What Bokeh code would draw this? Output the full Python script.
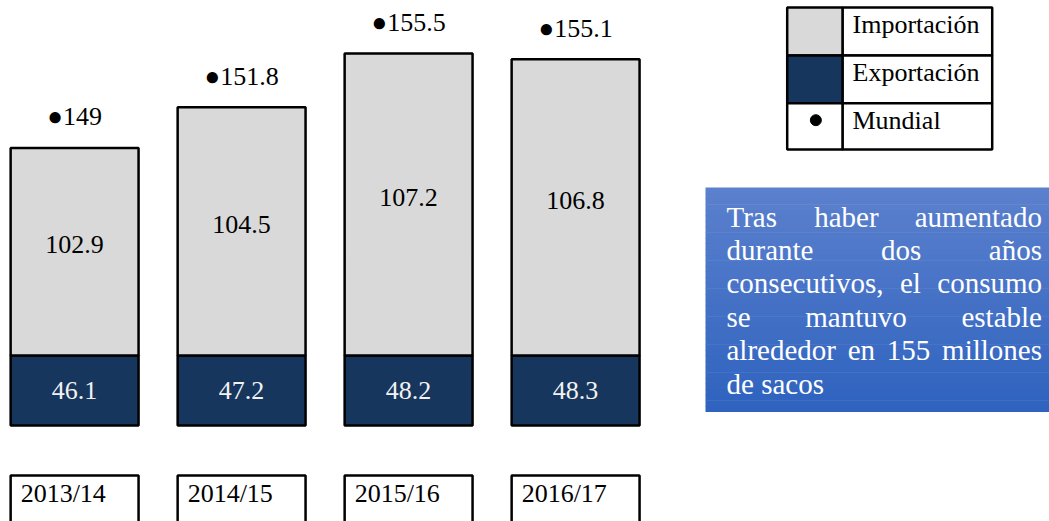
from bokeh.plotting import figure
from bokeh.models import Range1d, ColumnDataSource
from bokeh.embed import file_html
from bokeh.resources import INLINE
from bokeh.core.properties import value

# ---------------- data ----------------
years = ["2013/14", "2014/15", "2015/16", "2016/17"]
importacion = [102.9, 104.5, 107.2, 106.8]
exportacion = [46.1, 47.2, 48.2, 48.3]
mundial = [149, 151.8, 155.5, 155.1]
legend_labels = ["Importación", "Exportación", "Mundial"]
box_lines = ["Tras haber aumentado", "durante dos años", "consecutivos, el consumo",
             "se mantuvo estable", "alrededor en 155 millones", "de sacos"]

# ---------------- style ----------------
FONT = "Liberation Serif"
GRAY = "#d9d9d9"
NAVY = "#17365d"
W, H = 1049, 521
BAR_W = 0.766
BASE = 129.93          # visual baseline of the (truncated) bars
EXPORT_BAND = 4.81     # visual height of the export band (axis break)

p = figure(width=W, height=H, output_backend="svg", toolbar_location=None,
           x_range=Range1d(-0.4437, 5.8377), y_range=Range1d(123.33, 159.137),
           x_axis_location=None, y_axis_location=None, min_border=0)
p.min_border_left = p.min_border_right = p.min_border_top = p.min_border_bottom = 0
p.outline_line_color = None
p.grid.visible = False
p.background_fill_color = "white"
p.extra_x_ranges = {"px": Range1d(0, W)}
p.extra_y_ranges = {"py": Range1d(H, 0)}

xs = list(range(len(years)))
split = [BASE + EXPORT_BAND] * len(xs)
src = ColumnDataSource(dict(
    x=xs, base=[BASE] * len(xs), split=split, top=mundial,
    imp_y=[(s + t) / 2 for s, t in zip(split, mundial)],
    exp_y=[BASE + EXPORT_BAND / 2] * len(xs),
    imp_lab=[f"{v:g}" for v in importacion],
    exp_lab=[f"{v:g}" for v in exportacion],
    mun_lab=["●" + f"{v:g}" for v in mundial],
    left=[x - BAR_W / 2 for x in xs], right=[x + BAR_W / 2 for x in xs],
    year=years,
))

p.vbar(x="x", width=BAR_W, bottom="base", top="split", source=src,
       fill_color=NAVY, line_color="black", line_width=2.5)
p.vbar(x="x", width=BAR_W, bottom="split", top="top", source=src,
       fill_color=GRAY, line_color="black", line_width=2.5)

p.text(x="x", y="imp_y", text="imp_lab", source=src, text_align="center",
       text_baseline="middle", y_offset=-7, text_font=value(FONT),
       text_font_size="26px", text_color="black")
p.text(x="x", y="exp_y", text="exp_lab", source=src, text_align="center",
       text_baseline="middle", text_font=value(FONT),
       text_font_size="26px", text_color="#f2f2f2")
p.text(x="x", y="top", text="mun_lab", source=src, text_align="center",
       text_baseline="middle", y_offset=-31, text_font=value(FONT),
       text_font_size="26px", text_color="black")

# category boxes under bars
p.quad(left="left", right="right", top=475, bottom=540, source=src,
       y_range_name="py", fill_color="white", line_color="black", line_width=2.5)
p.text(x="left", y=492.5, text="year", source=src, y_range_name="py",
       x_offset=10, text_align="left", text_baseline="middle",
       text_font=value(FONT), text_font_size="26px", text_color="black")

# legend table
LX0, LX1, LX2 = 786.7, 842, 991.7
rows = [(7, 55), (55, 102.7), (102.7, 149)]
sw_colors = [GRAY, NAVY, "white"]
p.quad(left=[LX1] * 3, right=[LX2] * 3, top=[r[0] for r in rows], bottom=[r[1] for r in rows],
       x_range_name="px", y_range_name="py", fill_color="white",
       line_color="black", line_width=2.5)
p.quad(left=[LX0] * 3, right=[LX1] * 3, top=[r[0] for r in rows], bottom=[r[1] for r in rows],
       x_range_name="px", y_range_name="py", fill_color=sw_colors,
       line_color="black", line_width=2.5)
p.text(x=[LX1 + 10] * 3, y=[r[0] + 17 for r in rows], text=legend_labels,
       x_range_name="px", y_range_name="py", text_align="left", text_baseline="middle",
       text_font=value(FONT), text_font_size="26px", text_color="black")
p.scatter(x=[(LX0 + LX1) / 2 + 1], y=[rows[2][0] + 17], size=11, marker="circle",
          x_range_name="px", y_range_name="py", fill_color="black", line_color="black")

# blue gradient text box
BX0, BX1, BY0, BY1 = 705, 1049, 187, 411
c_top = (91, 128, 205)
c_bot = (47, 99, 191)
n = 40
strips_top, strips_bot, strips_col = [], [], []
for k in range(n):
    t = k / (n - 1)
    col = tuple(round(a + (b - a) * t) for a, b in zip(c_top, c_bot))
    strips_top.append(BY0 + (BY1 - BY0) * k / n)
    strips_bot.append(BY0 + (BY1 - BY0) * (k + 1) / n + 0.5)
    strips_col.append("#%02x%02x%02x" % col)
p.quad(left=[BX0] * n, right=[BX1] * n, top=strips_top, bottom=strips_bot,
       x_range_name="px", y_range_name="py", fill_color=strips_col, line_color=None)

# Times / Liberation Serif advance widths (per 1000 em)
ADV = {" ": 250, ",": 250, ".": 250, "/": 278, "a": 444, "b": 500, "c": 444, "d": 500,
       "e": 444, "f": 333, "g": 500, "h": 500, "i": 278, "j": 278, "k": 500, "l": 278,
       "m": 778, "n": 500, "o": 500, "p": 500, "q": 500, "r": 333, "s": 389, "t": 278,
       "u": 500, "v": 500, "w": 722, "x": 500, "y": 500, "z": 444, "ñ": 500, "ó": 500,
       "T": 611}
BOX_FS = 29


def tw(s):
    return sum(ADV.get(ch, 500) for ch in s) / 1000 * BOX_FS


TL, TR = 726, 1041.5
base0, lh = 216, 33.4
wx, wy, wt = [], [], []
for li, line in enumerate(box_lines):
    words = line.split(" ")
    y = base0 + lh * li
    if li == len(box_lines) - 1 or len(words) == 1:
        x = TL
        for w in words:
            wx.append(x); wy.append(y); wt.append(w)
            x += tw(w) + tw(" ")
    else:
        gap = (TR - TL - sum(tw(w) for w in words)) / (len(words) - 1)
        x = TL
        for w in words:
            wx.append(x); wy.append(y); wt.append(w)
            x += tw(w) + gap
p.text(x=wx, y=wy, text=wt, x_range_name="px", y_range_name="py",
       text_align="left", text_baseline="middle", text_font=value(FONT),
       text_font_size=f"{BOX_FS}px", text_color="white")

open("out.html", "w").write(file_html(p, INLINE))
